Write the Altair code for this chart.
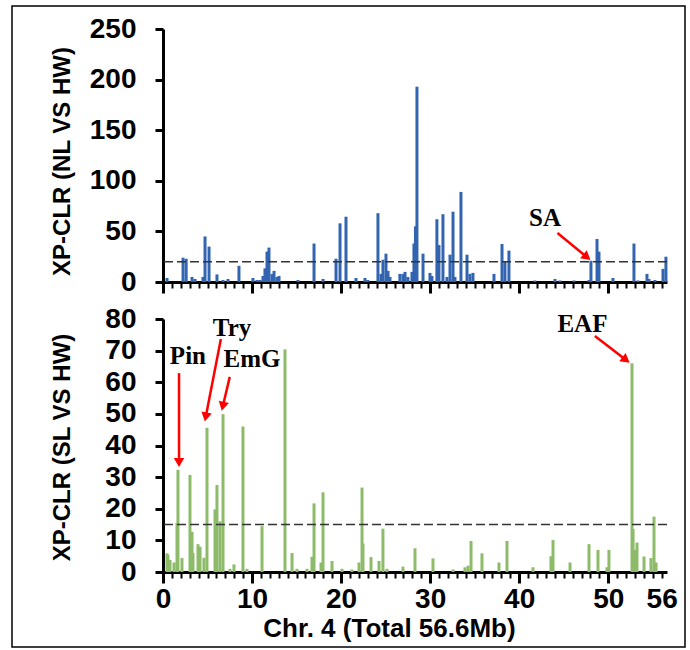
import math
import altair as alt
import pandas as pd

# ---------------- data ----------------
# top panel: NL vs HW  (position in Mb, XP-CLR score)
top_pos = [0.45, 2.25, 2.6, 3.26, 3.6, 4.49, 4.72, 5.17, 6.06, 6.74, 7.3, 8.53,
           10.1, 10.56, 10.9, 11.23, 11.45, 11.68, 11.9, 12.24, 12.47, 12.8, 13.03,
           15.16, 16.96, 17.97, 19.43, 19.88, 20.55, 21.67, 22.68, 23.0, 24.14,
           24.48, 24.7, 25.04, 25.27, 25.49, 26.6, 26.95, 27.18, 27.5, 27.96,
           28.18, 28.35, 28.52, 29.2, 29.98, 30.2, 30.76, 30.99, 31.44, 31.89,
           32.23, 32.57, 32.79, 33.46, 34.14, 34.47, 34.81, 37.17, 38.07, 38.4,
           38.85, 41.77, 44.02, 44.58, 46.15, 47.84, 48.06, 48.74, 48.96, 50.53,
           52.89, 53.34, 54.35, 54.58, 55.25, 56.15, 56.48]
top_val = [4, 24, 23, 5, 3, 5, 45, 35, 7.5, 2, 3, 16,
           4, 2, 2, 6, 13.5, 30, 34, 8, 11, 5, 6,
           2, 38, 3, 23, 58, 64.5, 4, 4, 2, 68,
           8, 22, 28, 11, 5, 8, 8, 10, 5, 10,
           38, 55, 193, 28, 9, 6, 62, 36.5, 67, 5,
           27, 69.5, 5, 89, 27, 8, 9, 8, 37.5, 20,
           31, 1.5, 3, 1.5, 1.5, 2, 21, 42.5, 30, 4,
           38, 1.5, 8, 3, 2, 13, 25]

# bottom panel: SL vs HW
bot_pos = [0.45, 0.56, 0.79, 1.24, 1.57, 1.68, 2.13, 3.03, 3.26, 3.37, 3.93, 4.16,
           4.6, 4.94, 5.84, 6.06, 6.4, 6.74, 7.52, 7.97, 8.98, 9.43, 11.12, 13.7,
           14.49, 15.05, 16.17, 16.73, 16.96, 17.74, 17.97, 18.98, 20.1, 21.22,
           22.01, 22.35, 22.46, 23.36, 24.26, 24.7, 25.15, 26.95, 28.3, 30.32,
           32.57, 33.91, 34.25, 34.59, 35.82, 37.73, 38.63, 41.55, 43.57, 43.8,
           45.71, 47.84, 48.85, 49.86, 50.08, 52.67, 52.79, 53.01, 53.23, 54.02,
           54.8, 55.14, 55.37]
bot_val = [5.9, 5.5, 3.8, 3, 15.5, 32.3, 4.4, 30.7, 12.7, 6, 8.8, 8,
           4.5, 45.6, 19.8, 27.5, 16, 49.9, 1, 2.4, 46, 1, 14.5, 70.4,
           6, 1, 1, 4.8, 21.7, 3, 25.2, 3.5, 1, 0.8,
           3, 26.7, 9, 4.7, 3.5, 13.7, 1, 1.7, 7.5, 4.3,
           0.8, 1.5, 2, 9.8, 5.9, 3, 9.8, 1.5, 5, 10.1,
           3, 8.8, 7, 1.5, 7, 66, 13.6, 7, 9.3, 4.9,
           4.4, 17.5, 3]

top_threshold = [20]
bot_threshold = [15]

# annotations
top_labels = ["SA"]
top_label_x = [42.9]
top_label_y = [63.7]
top_arrow_start = [(44.3, 48.4)]
top_arrow_tip = [(48.0, 21.7)]

bot_labels = ["Pin", "Try", "EmG", "EAF"]
bot_label_x = [2.8, 7.75, 10.0, 47.1]
bot_label_y = [68.3, 77.0, 67.4, 78.4]
bot_arrow_start = [(1.8, 62.9), (6.5, 73.7), (7.5, 61.7), (48.5, 74.6)]
bot_arrow_tip = [(1.8, 33.2), (4.7, 47.6), (6.6, 51.0), (52.4, 66.2)]

x_minor_ticks = list(range(0, 57))
x_major_ticks = [0, 10, 20, 30, 40, 50]
x_labels = [0, 10, 20, 30, 40, 50, 56]
top_y_ticks = [0, 50, 100, 150, 200, 250]
bot_y_ticks = [0, 10, 20, 30, 40, 50, 60, 70, 80]

# ---------------- layout constants ----------------
W, H = 504, 253
XMAX = 56.6
TOP_YMAX, BOT_YMAX = 250, 80
BLUE = "#3264B0"
GREEN = "#8DBB6A"
SANS = "Liberation Sans"
SERIF = "Liberation Serif"

label_test = " || ".join(f"datum.value === {v}" for v in x_labels)


def xs():
    return alt.Scale(domain=[0, XMAX], nice=False, zero=False)


def ys(ymax):
    return alt.Scale(domain=[0, ymax], nice=False)


def arrows_df(starts, tips, ymax):
    px_x = W / XMAX
    px_y = H / ymax
    rows = []
    for (sx, sy), (tx, ty) in zip(starts, tips):
        dxp = (tx - sx) * px_x
        dyp = -(ty - sy) * px_y
        L = math.hypot(dxp, dyp)
        ux, uy = dxp / L, dyp / L
        ang = math.degrees(math.atan2(dxp, -dyp)) % 360
        back = 4.5
        hx = tx - ux * back / px_x
        hy = ty + uy * back / px_y
        rows.append(dict(x=sx, y=sy, x2=hx, y2=hy, hx=hx, hy=hy, ang=ang))
    return pd.DataFrame(rows)


def panel(pos, val, color, thr, ymax, yticks, ytitle, title_y,
          labels, lx, ly, a_start, a_tip, show_x_labels):
    if show_x_labels:
        minor_axis = alt.Axis(
            values=x_minor_ticks, orient="bottom", grid=False,
            domainColor="black", domainWidth=3, tickColor="black",
            tickWidth=2, tickSize=6, labelFont=SANS, labelFontSize=28,
            labelFontWeight="bold", labelColor="black", labelPadding=7,
            labelOverlap=False, labelFlush=False, labelBound=False,
            labelExpr=f"({label_test}) ? datum.label : ''",
            title="Chr. 4 (Total 56.6Mb)", titleFont=SANS, titleFontSize=26,
            titleFontWeight="bold", titleColor="black", titleX=226,
            titleY=56, titleBaseline="middle", titleAlign="center")
    else:
        minor_axis = alt.Axis(
            values=x_minor_ticks, orient="bottom", grid=False,
            domainColor="black", domainWidth=3, tickColor="black",
            tickWidth=2, tickSize=6, labels=False, title=None)
    major_axis = alt.Axis(values=x_major_ticks, orient="bottom", grid=False,
                          domain=False, tickColor="black", tickWidth=3,
                          tickSize=11, labels=False, title=None)
    y_axis = alt.Axis(values=yticks, orient="left", grid=False,
                      domainColor="black", domainWidth=3, tickColor="black",
                      tickWidth=3, tickSize=8, labelFont=SANS,
                      labelFontSize=28, labelFontWeight="bold",
                      labelColor="black", labelPadding=19, title=ytitle,
                      titleFont=SANS, titleFontSize=24,
                      titleFontWeight="bold", titleColor="black",
                      titleX=-101, titleY=title_y, titleBaseline="middle",
                      titleAlign="center", titleAngle=270)

    def Y(field):
        return alt.Y(field, scale=ys(ymax), axis=y_axis)

    df = pd.DataFrame({"pos": pos, "val": val})
    spikes = alt.Chart(df).mark_rule(color=color, strokeWidth=3).encode(
        x=alt.X("pos:Q", scale=xs(), axis=minor_axis),
        y=Y("val:Q"),
        y2=alt.datum(0),
    )
    majors = alt.Chart(pd.DataFrame({"t": x_major_ticks})).mark_point(
        opacity=0).encode(x=alt.X("t:Q", scale=xs(), axis=major_axis))
    thr_line = alt.Chart(pd.DataFrame({"thr": thr})).mark_rule(
        color="#333333", strokeWidth=1.5, strokeDash=[9, 4]).encode(
        y=Y("thr:Q"))

    adf = arrows_df(a_start, a_tip, ymax)
    a_lines = alt.Chart(adf).mark_rule(color="#FF0000", strokeWidth=2.5).encode(
        x=alt.X("x:Q", scale=xs(), axis=None),
        y=Y("y:Q"),
        x2="x2:Q", y2="y2:Q")
    a_heads = alt.Chart(adf).mark_point(
        shape="triangle-up", filled=True, size=110, color="#FF0000",
        opacity=1).encode(
        x=alt.X("hx:Q", scale=xs(), axis=None),
        y=Y("hy:Q"),
        angle=alt.Angle("ang:Q", scale=None))
    tdf = pd.DataFrame({"lab": labels, "x": lx, "y": ly})
    texts = alt.Chart(tdf).mark_text(
        font=SERIF, fontSize=25, fontWeight="bold", color="black",
        baseline="middle", align="center").encode(
        x=alt.X("x:Q", scale=xs(), axis=None),
        y=Y("y:Q"),
        text="lab:N")
    return [spikes, majors, thr_line, a_lines, a_heads, texts]


top_layers = panel(top_pos, top_val, BLUE, top_threshold, TOP_YMAX,
                   top_y_ticks, "XP-CLR (NL VS HW)", 132, top_labels,
                   top_label_x, top_label_y, top_arrow_start, top_arrow_tip,
                   False)
frame = alt.Chart(pd.DataFrame({"k": [0]})).mark_rect(
    fill="white", fillOpacity=0, stroke="black", strokeWidth=1.5).encode(
    x=alt.value(-151), x2=alt.value(522), y=alt.value(-23),
    y2=alt.value(618))
top = alt.layer(frame, *top_layers).resolve_axis(x="independent").properties(
    width=W, height=H)

bot_layers = panel(bot_pos, bot_val, GREEN, bot_threshold, BOT_YMAX,
                   bot_y_ticks, "XP-CLR (SL VS HW)", 128, bot_labels,
                   bot_label_x, bot_label_y, bot_arrow_start, bot_arrow_tip,
                   True)
bottom = alt.layer(*bot_layers).resolve_axis(x="independent").properties(
    width=W, height=H)

chart = alt.vconcat(top, bottom, spacing=37, bounds="flush").properties(
    padding={"left": 11, "top": 5, "right": 2, "bottom": 2},
    background="white",
).configure_view(stroke=None)

chart.save("out.html", embed_options={"renderer": "svg", "actions": False})
